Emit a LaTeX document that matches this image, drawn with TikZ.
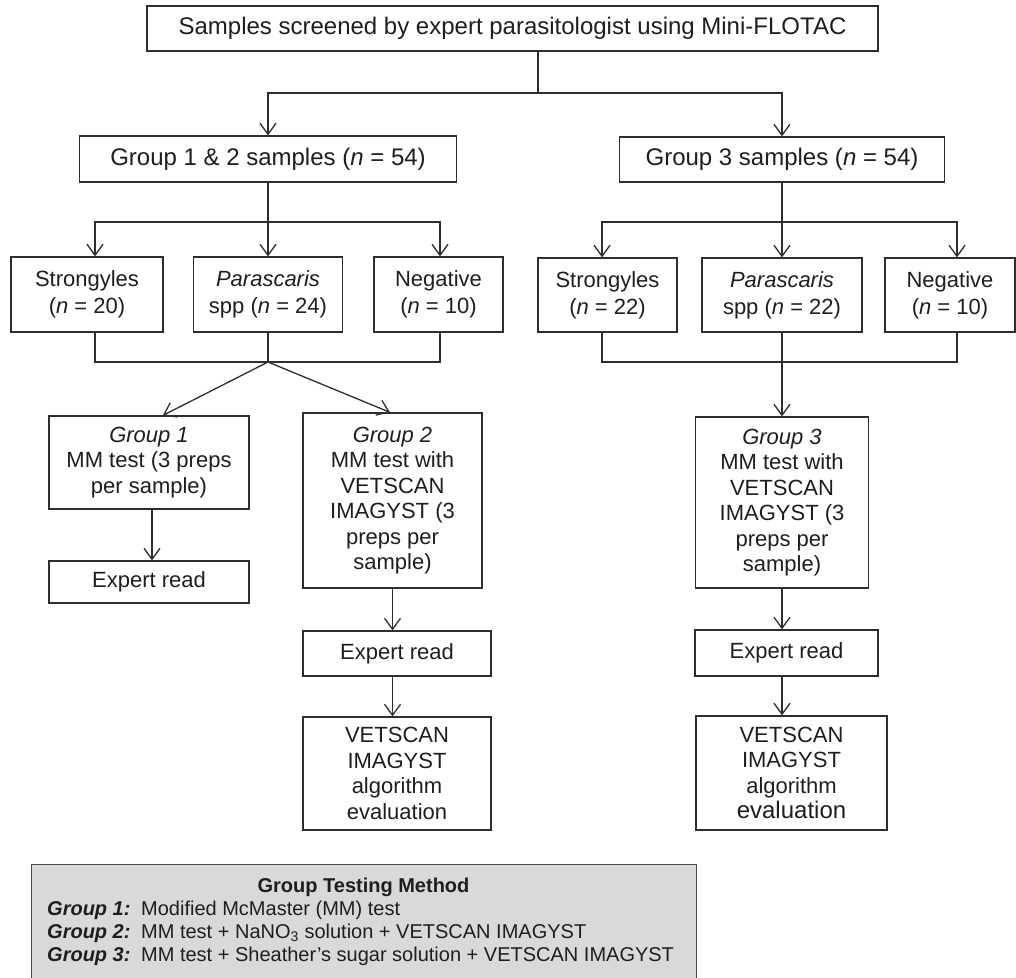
\documentclass[tikz,border=0pt]{standalone}
\usepackage{fontspec}
\setmainfont{Liberation Sans}
\usetikzlibrary{arrows.meta}
\definecolor{lncol}{HTML}{2E2E2E}
\definecolor{txcol}{HTML}{1E1E1E}
\definecolor{lgfill}{HTML}{D9D9D9}
\definecolor{lgdraw}{HTML}{4A4A4A}
\begin{document}
\begin{tikzpicture}[x=1pt,y=-1pt,
  box/.style={draw=lncol, line width=1.3pt, text=txcol, align=center, inner sep=0pt,
              font=\fontsize{22}{25.5}\selectfont},
  bigbox/.style={box, font=\fontsize{24}{28}\selectfont},
  rowbox/.style={box, font=\fontsize{22}{27}\selectfont, minimum height=75pt},
  wire/.style={draw=lncol, line width=1.3pt},
  arr/.style={wire, -{Straight Barb[length=11pt,width=16pt,line width=1.3pt]}},
  lgtext/.style={text=txcol, inner sep=0pt, font=\fontsize{20}{23}\selectfont}]
\useasboundingbox (0,0) rectangle (1016,977);
\fill[white] (0,0) rectangle (1016,977);

% top
\node[bigbox, minimum width=731pt, minimum height=45pt] (top) at (512.5,28.5)
  {Samples screened by expert parasitologist using Mini-FLOTAC};
\node[bigbox, minimum width=377pt, minimum height=46pt] (g12) at (268,159)
  {Group 1 \& 2 samples (\textit{n} = 54)};
\node[bigbox, minimum width=325pt, minimum height=45pt] (g3) at (782,159.5)
  {Group 3 samples (\textit{n} = 54)};

% row 3 left
\node[rowbox, minimum width=152pt] (s1) at (87,294.5) {Strongyles\\(\textit{n} = 20)};
\node[rowbox, minimum width=149pt] (p1) at (268,294.5) {\textit{Parascaris}\\spp (\textit{n} = 24)};
\node[rowbox, minimum width=129pt] (n1) at (438.5,294.5) {Negative\\(\textit{n} = 10)};
% row 3 right
\node[rowbox, minimum width=139pt, minimum height=74pt] (s2) at (607.5,295) {Strongyles\\(\textit{n} = 22)};
\node[rowbox, minimum width=160pt, minimum height=74pt] (p2) at (782,295) {\textit{Parascaris}\\spp (\textit{n} = 22)};
\node[rowbox, minimum width=130pt, minimum height=74pt] (n2) at (950,295) {Negative\\(\textit{n} = 10)};

% group boxes
\node[box, minimum width=200pt, minimum height=93pt] (gA) at (149,462.5)
  {\textit{Group 1}\\MM test (3 preps\\per sample)};
\node[box, minimum width=179pt, minimum height=175pt] (gB) at (392.5,500.5)
  {\textit{Group 2}\\MM test with\\VETSCAN\\IMAGYST (3\\preps per\\sample)};
\node[box, minimum width=173pt, minimum height=171pt] (gC) at (782,502.5)
  {\textit{Group 3}\\MM test with\\VETSCAN\\IMAGYST (3\\preps per\\sample)};

% expert reads
\node[box, minimum width=200pt, minimum height=42pt] (eA) at (149,582) {Expert read};
\node[box, minimum width=188pt, minimum height=45pt] (eB) at (397,653.5) {Expert read};
\node[box, minimum width=183pt, minimum height=46pt] (eC) at (786.5,653) {Expert read};

% algorithm evaluation
\node[box, minimum width=188pt, minimum height=113pt] (vB) at (397,773.5)
  {VETSCAN\\IMAGYST\\algorithm\\evaluation};
\node[box, minimum width=191pt, minimum height=114pt] (vC) at (791.5,773)
  {VETSCAN\\IMAGYST\\algorithm\\{\fontsize{24}{25.5}\selectfont evaluation}};

% connectors: top
\coordinate (t1) at (538,93);
\draw[wire] ([xshift=25.5pt]top.south) -- (t1);
\draw[arr] (t1) -| (g12.north);
\draw[arr] (t1) -| (g3.north);

% left branch
\coordinate (h1) at (268,222);
\draw[wire] (g12.south) -- (h1);
\draw[arr] (h1) -| ([xshift=8pt]s1.north);
\draw[arr] (h1) -- (p1.north);
\draw[arr] (h1) -| ([xshift=1.5pt]n1.north);
\coordinate (m1) at (268,362);
\draw[wire] ([xshift=8pt]s1.south) |- (m1);
\draw[wire] ([xshift=1.5pt]n1.south) |- (m1);
\draw[wire] (p1.south) -- (m1);
\draw[arr] (m1) -- ([xshift=14pt]gA.north);
\draw[arr] (m1) -- ([xshift=-2.5pt]gB.north);
\draw[arr] ([xshift=3pt]gA.south) -- ([xshift=3pt]eA.north);
\draw[arr] (gB.south) -- (eB.north -| gB.south);
\draw[arr] (eB.south -| gB.south) -- (vB.north -| gB.south);

% right branch
\coordinate (h2) at (782,222);
\draw[wire] (g3.south) -- (h2);
\draw[arr] (h2) -| ([xshift=-5.5pt]s2.north);
\draw[arr] (h2) -- (p2.north);
\draw[arr] (h2) -| ([xshift=7pt]n2.north);
\coordinate (m2) at (782,362);
\draw[wire] ([xshift=-5.5pt]s2.south) |- (m2);
\draw[wire] ([xshift=7pt]n2.south) |- (m2);
\draw[arr] (p2.south) -- (gC.north);
\draw[arr] (gC.south) -- (eC.north -| gC.south);
\draw[arr] (eC.south -| gC.south) -- (vC.north -| gC.south);

% legend
\node[draw=lgdraw, fill=lgfill, line width=1pt, minimum width=665pt, minimum height=116pt, inner sep=0pt] (legend) at (363.5,922) {};
\node[lgtext, anchor=base, font=\fontsize{20}{23}\selectfont\bfseries] (lgtitle) at (363.5,892) {Group Testing Method};
\node[lgtext, anchor=base west] (lga) at (47,915) {\textbf{\textit{Group 1:}}};
\node[lgtext, anchor=base west] (lgat) at (141,915) {Modified McMaster (MM) test};
\node[lgtext, anchor=base west] (lgb) at (47,938) {\textbf{\textit{Group 2:}}};
\node[lgtext, anchor=base west] (lgbt) at (141,938) {MM test + NaNO\textsubscript{3} solution + VETSCAN IMAGYST};
\node[lgtext, anchor=base west] (lgc) at (47,961) {\textbf{\textit{Group 3:}}};
\node[lgtext, anchor=base west] (lgct) at (141,961) {MM test + Sheather’s sugar solution + VETSCAN IMAGYST};
\end{tikzpicture}
\end{document}
